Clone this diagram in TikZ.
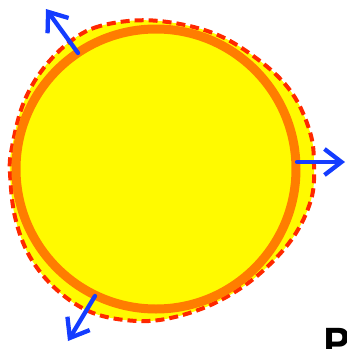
\documentclass[tikz,border=0pt]{standalone}
\usepackage{fontspec}
\setsansfont{TeX Gyre Heros}
\usetikzlibrary{arrows.meta}
\definecolor{sunyellow}{RGB}{255,250,0}
\definecolor{rimorange}{RGB}{255,125,0}
\definecolor{dashred}{RGB}{255,40,0}
\definecolor{pushblue}{RGB}{20,60,255}
\begin{document}
\begin{tikzpicture}[x=1pt,y=-1pt,line cap=round,>={Straight Barb[length=17pt,width=26pt]}]
		\tikzset{outward/.style={->,draw=pushblue,line width=4.3pt},
			rim/.style={draw=rimorange,line width=9pt,fill=sunyellow},
			bulge/.style={draw=dashred,fill=sunyellow,line width=4pt,line cap=butt,dash pattern=on 9pt off 5pt}
		}
		\useasboundingbox (0,0) rectangle (347,349);
		\clip (0,0) rectangle (347,349);
		\draw[bulge] plot[smooth cycle,tension=.6] coordinates{(153,20.5) (100,26) (67,44) (40,73) (22,107) (11.5,150) (10,173) (15,217) (30,257) (57,290) (93,313) (137,321) (175,317) (217,302) (257,276) (292,239) (311,200) (314,165) (310,132) (292,93) (260,61) (213,33)};
		\draw[rim] (156,169) coordinate (c) circle (140);
		\coordinate (a1) at (78,53);  \coordinate (t1) at (46,9);
		\coordinate (a2) at (297,162); \coordinate (t2) at (345,162);
		\coordinate (a3) at (95,296); \coordinate (t3) at (68,341);
		\draw[outward] (a1)--(t1);
		\draw[outward] (a2)--(t2);
		\draw[outward] (a3)--(t3);
		\node[anchor=north west,inner sep=0,font=\sffamily\bfseries\fontsize{40}{40}\selectfont] (mark) at (323,328) {P};
	\end{tikzpicture}
\end{document}
